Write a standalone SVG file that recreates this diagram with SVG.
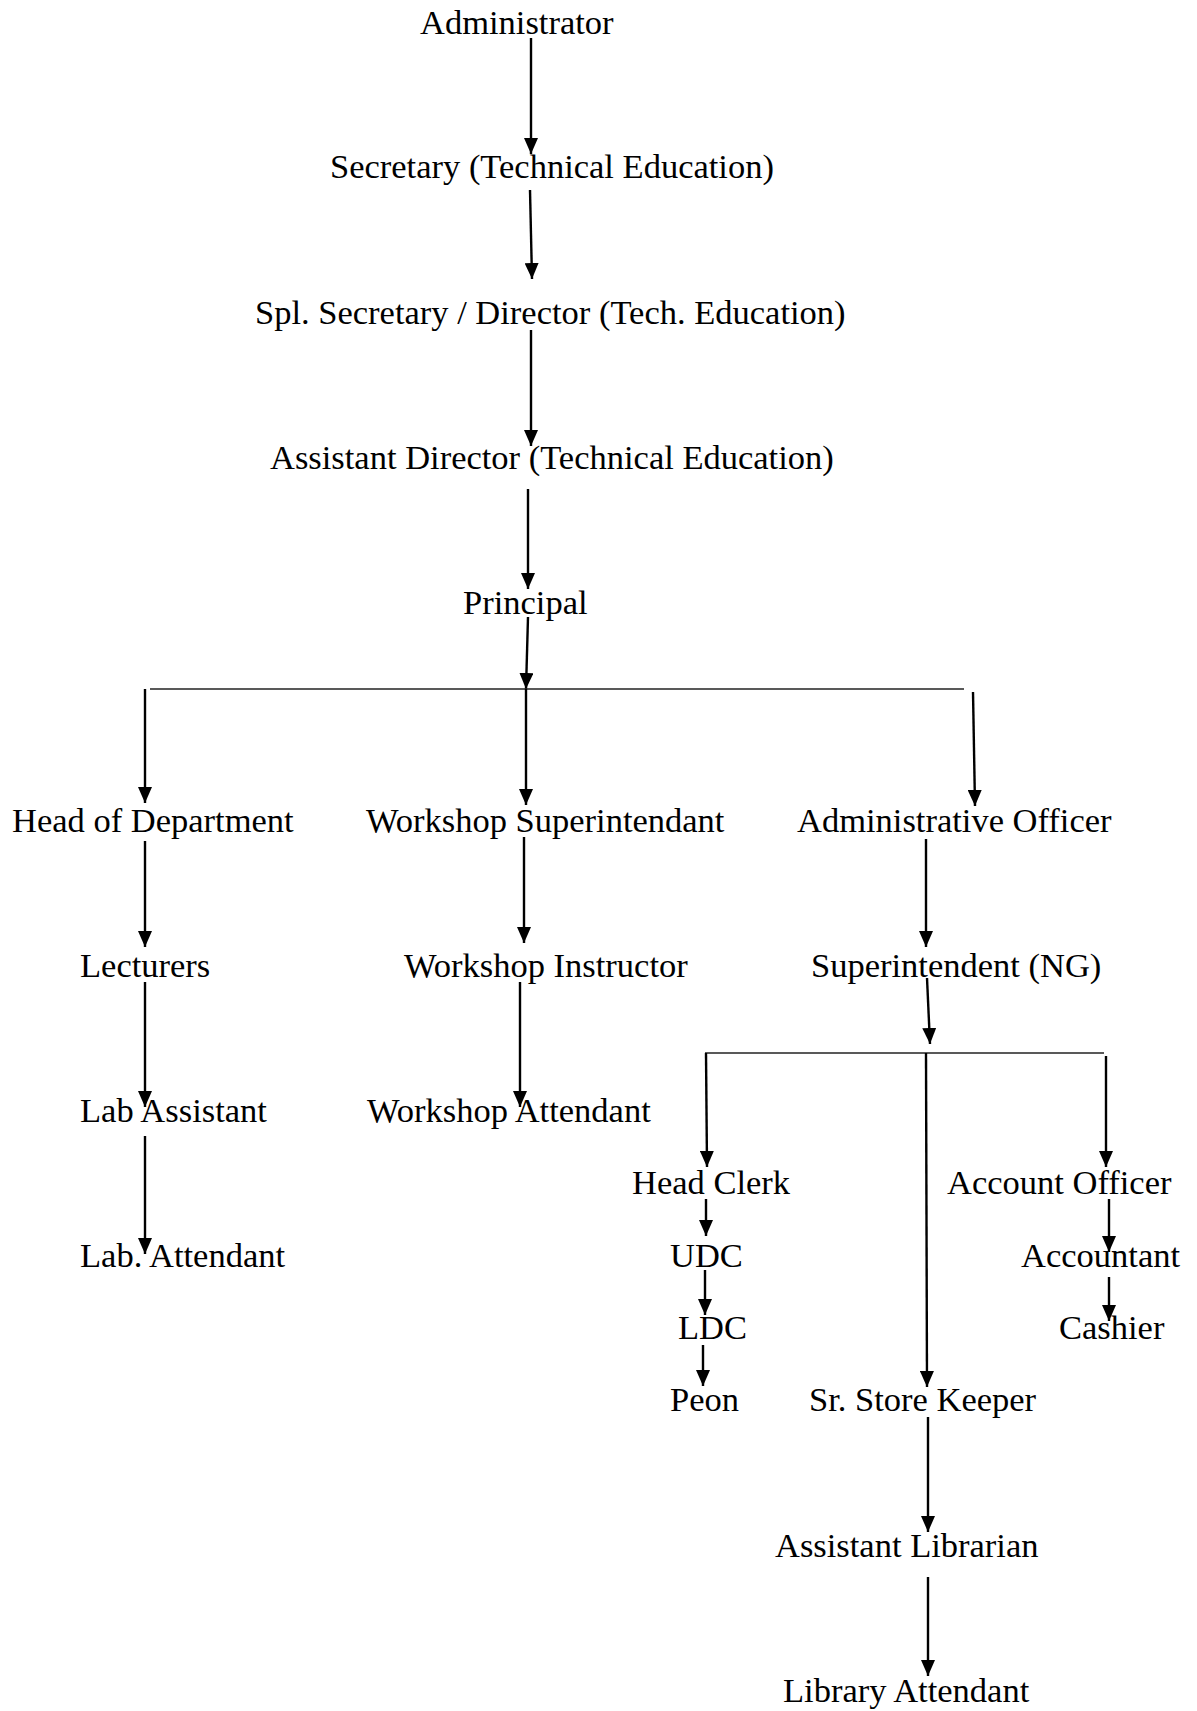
<svg xmlns="http://www.w3.org/2000/svg" width="1197" height="1711" viewBox="0 0 1197 1711">
<style>
  text { font-family: "Liberation Serif", "Times New Roman", serif; font-size: 34.5px; fill: #000; }
  .conn line { stroke: #000; stroke-width: 2.4; fill: none; }
  .conn line.arrow { marker-end: url(#ah); }
  .conn line.bar { stroke: #222; stroke-width: 1.6; }
</style>
<defs>
  <marker id="ah" markerUnits="userSpaceOnUse" viewBox="0 0 16 14" markerWidth="16" markerHeight="14" refX="16" refY="7" orient="auto">
    <path d="M0,0 L16,7 L0,14 z" fill="#000"/>
  </marker>
</defs>
<rect width="1197" height="1711" fill="#fff"/>

<g id="connectors" class="conn">
  <line class="arrow" x1="531" y1="38" x2="531" y2="154"/>
  <line class="arrow" x1="530" y1="190" x2="532" y2="279"/>
  <line class="arrow" x1="531" y1="330" x2="531" y2="446"/>
  <line class="arrow" x1="528" y1="489" x2="528" y2="589"/>
  <line class="arrow" x1="528" y1="617" x2="526" y2="689"/>
  <line class="bar" x1="150" y1="689" x2="964" y2="689"/>
  <line class="arrow" x1="145" y1="689" x2="145" y2="803"/>
  <line class="arrow" x1="526" y1="689" x2="526" y2="805"/>
  <line class="arrow" x1="973" y1="692" x2="975" y2="806"/>
  <line class="arrow" x1="145" y1="841" x2="145" y2="947"/>
  <line class="arrow" x1="524" y1="837" x2="524" y2="943"/>
  <line class="arrow" x1="926" y1="839" x2="926" y2="947"/>
  <line class="arrow" x1="145" y1="982" x2="145" y2="1107"/>
  <line class="arrow" x1="520" y1="982" x2="520" y2="1107"/>
  <line class="arrow" x1="145" y1="1136" x2="145" y2="1254"/>
  <line class="arrow" x1="927" y1="978" x2="930" y2="1044"/>
  <line class="bar" x1="705" y1="1053" x2="1104" y2="1053"/>
  <line class="arrow" x1="706" y1="1053" x2="707" y2="1167"/>
  <line class="arrow" x1="926" y1="1053" x2="927" y2="1387"/>
  <line class="arrow" x1="1106" y1="1056" x2="1106" y2="1167"/>
  <line class="arrow" x1="706" y1="1199" x2="706" y2="1236"/>
  <line class="arrow" x1="705" y1="1270" x2="705" y2="1315"/>
  <line class="arrow" x1="703" y1="1345" x2="703" y2="1386"/>
  <line class="arrow" x1="1109" y1="1199" x2="1109" y2="1252"/>
  <line class="arrow" x1="1109" y1="1277" x2="1109" y2="1321"/>
  <line class="arrow" x1="928" y1="1417" x2="928" y2="1532"/>
  <line class="arrow" x1="928" y1="1577" x2="928" y2="1676"/>
</g>

<g id="administrator"><text x="420" y="34">Administrator</text></g>
<g id="secretary"><text x="330" y="178">Secretary (Technical Education)</text></g>
<g id="spl-secretary"><text x="255" y="324">Spl. Secretary / Director (Tech. Education)</text></g>
<g id="assistant-director"><text x="270" y="469">Assistant Director (Technical Education)</text></g>
<g id="principal"><text x="463" y="614">Principal</text></g>
<g id="head-of-department"><text x="12" y="832">Head of Department</text></g>
<g id="workshop-superintendant"><text x="366" y="832">Workshop Superintendant</text></g>
<g id="administrative-officer"><text x="797" y="832">Administrative Officer</text></g>
<g id="lecturers"><text x="80" y="977">Lecturers</text></g>
<g id="workshop-instructor"><text x="404" y="977">Workshop Instructor</text></g>
<g id="superintendent-ng"><text x="811" y="977">Superintendent (NG)</text></g>
<g id="lab-assistant"><text x="80" y="1122">Lab Assistant</text></g>
<g id="workshop-attendant"><text x="367" y="1122">Workshop Attendant</text></g>
<g id="lab-attendant"><text x="80" y="1267">Lab. Attendant</text></g>
<g id="head-clerk"><text x="632" y="1194">Head Clerk</text></g>
<g id="account-officer"><text x="947" y="1194">Account Officer</text></g>
<g id="udc"><text x="670" y="1267">UDC</text></g>
<g id="accountant"><text x="1021" y="1267">Accountant</text></g>
<g id="ldc"><text x="678" y="1339">LDC</text></g>
<g id="cashier"><text x="1059" y="1339">Cashier</text></g>
<g id="peon"><text x="670" y="1411">Peon</text></g>
<g id="sr-store-keeper"><text x="809" y="1411">Sr. Store Keeper</text></g>
<g id="assistant-librarian"><text x="775" y="1557">Assistant Librarian</text></g>
<g id="library-attendant"><text x="783" y="1702">Library Attendant</text></g>
</svg>
